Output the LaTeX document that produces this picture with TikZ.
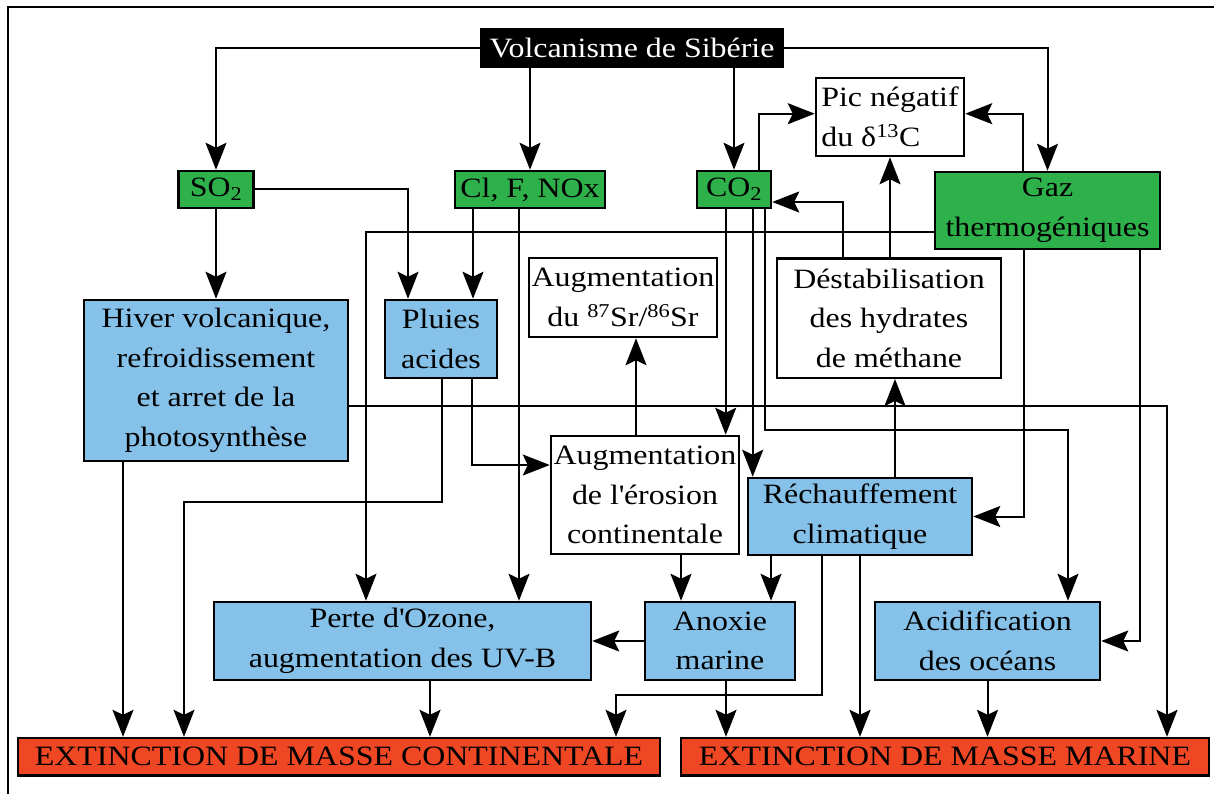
\documentclass[tikz,border=0pt]{standalone}
\usepackage{fontspec}
\setmainfont{Liberation Serif}[FakeStretch=1.14]
\usetikzlibrary{arrows.meta}
\definecolor{gfill}{RGB}{46,176,75}
\definecolor{bfill}{RGB}{133,193,233}
\definecolor{rfill}{RGB}{239,71,35}
\newcommand{\apos}{\textquotesingle}
\begin{document}
\begin{tikzpicture}[x=1pt,y=-1pt,
  base/.style={draw=black, line width=2.5pt, inner sep=0pt, align=center, font=\fontsize{28}{39.5}\selectfont, text=black},
  gbox/.style={base, fill=gfill},
  bbox/.style={base, fill=bfill},
  wbox/.style={base, fill=white},
  rbox/.style={base, fill=rfill},
  kbox/.style={base, fill=black, text=white},
  arr/.style={line width=2pt, -{Stealth[length=27pt,width=21pt,inset=5pt]}},
  ln/.style={line width=2pt}]
\useasboundingbox (0,0) rectangle (1214,794);
\draw[line width=1.5pt] (8,794) -- (8,7) -- (1214,7);

% nodes
\node[kbox, minimum width=302pt, minimum height=38pt] (volc) at (632,48) {Volcanisme de Sibérie};
\node[gbox, minimum width=75pt, minimum height=37pt] (so2) at (216,189.5) {SO\textsubscript{2}};
\node[gbox, minimum width=150pt, minimum height=37pt] (cl) at (530,189.5) {Cl, F, NOx};
\node[gbox, minimum width=74pt, minimum height=37pt] (co2) at (734,189.5) {CO\textsubscript{2}};
\node[gbox, minimum width=225pt, minimum height=77pt] (gaz) at (1047.5,210.5) {Gaz\\thermogéniques};
\node[wbox, align=left, minimum width=148pt, minimum height=78pt] (pic) at (890,117) {Pic négatif\\du δ\textsuperscript{13}C};
\node[bbox, minimum width=264pt, minimum height=161pt] (hiver) at (216,380.5) {Hiver volcanique,\\refroidissement\\et arret de la\\photosynthèse};
\node[bbox, minimum width=112pt, minimum height=78pt] (pluies) at (441,339) {Pluies\\acides};
\node[wbox, minimum width=188pt, minimum height=79pt] (sr) at (623,297.5) {Augmentation\\du \textsuperscript{87}Sr/\textsuperscript{86}Sr};
\node[wbox, minimum width=224pt, minimum height=119.5pt] (destab) at (889,318) {Déstabilisation\\des hydrates\\de méthane};
\node[wbox, minimum width=188pt, minimum height=118pt] (erosion) at (645,495) {Augmentation\\de l\apos érosion\\continentale};
\node[bbox, minimum width=224pt, minimum height=77pt] (rech) at (860,516.5) {Réchauffement\\climatique};
\node[bbox, minimum width=377pt, minimum height=78pt] (perte) at (402.5,641) {Perte d\apos Ozone,\\augmentation des UV-B};
\node[bbox, minimum width=150pt, minimum height=78pt] (anoxie) at (720,641) {Anoxie\\marine};
\node[bbox, minimum width=225pt, minimum height=78pt] (acid) at (987.5,641) {Acidification\\des océans};
\node[rbox, minimum width=642pt, minimum height=37.5pt] (cont) at (339,756.8) {EXTINCTION DE MASSE CONTINENTALE};
\node[rbox, minimum width=528pt, minimum height=37.5pt] (marine) at (945,756.8) {EXTINCTION DE MASSE MARINE};

% connectors
\draw[arr] (volc.west) -| (so2.north);
\draw[arr] (volc.south -| cl.north) -- (cl.north);
\draw[arr] (volc.south -| co2.north) -- (co2.north);
\draw[arr] (volc.east) -| (gaz.north);
\draw[arr] (so2.south) -- (hiver.north);
\draw[arr] (so2.east) -| ([xshift=-33pt]pluies.north);
\draw[arr] ([xshift=-57pt]cl.south) -- ([xshift=32pt]pluies.north);
\draw[arr] ([xshift=-11pt]cl.south) -- ([xshift=116.5pt]perte.north);
\draw[arr] ([yshift=-21.5pt]gaz.west) -| ([xshift=-36.5pt]perte.north);
\draw[arr] ([xshift=24.5pt]co2.north) |- ([yshift=3.3pt]pic.west);
\draw[arr] ([xshift=-24.5pt]gaz.north) |- ([yshift=3.3pt]pic.east);
\draw[arr] ([xshift=-46pt]destab.north) |- ([yshift=-12.5pt]co2.east);
\draw[arr] (destab.north -| pic.south) -- (pic.south);
\draw[arr] ([xshift=-8.3pt]co2.south) -- ([xshift=80.7pt]erosion.north);
\draw[arr] ([xshift=18.7pt]co2.south) -- ([xshift=-107.3pt]rech.north);
\draw[arr] ([xshift=31pt]co2.south) -- ++(0,220.7) -| ([xshift=80.5pt]acid.north);
\draw[arr] ([xshift=-23.5pt]gaz.south) |- (rech.east);
\draw[arr] ([xshift=92.5pt]gaz.south) |- (acid.east);
\draw[arr] ([yshift=-25.5pt]hiver.east) -| ([xshift=222pt]marine.north);
\draw[arr] ([xshift=-93pt]hiver.south) -- ([xshift=-216pt]cont.north);
\draw[arr] ([xshift=1pt]pluies.south) -- ++(0,123) -| ([xshift=-155pt]cont.north);
\draw[arr] ([xshift=31pt]pluies.south) |- ([yshift=30pt]erosion.west);
\draw[arr] ([xshift=-9pt]erosion.north) -- ([xshift=13pt]sr.south);
\draw[arr] ([xshift=35pt]rech.north) -- ([xshift=6pt]destab.south);
\draw[arr] ([xshift=36pt]erosion.south) -- ([xshift=-39pt]anoxie.north);
\draw[arr] ([xshift=-89pt]rech.south) -- ([xshift=51pt]anoxie.north);
\draw[arr] ([xshift=-38pt]rech.south) -- ++(0,139) -| ([xshift=277pt]cont.north);
\draw[arr] (rech.south) -- ([xshift=-85pt]marine.north);
\draw[arr] (anoxie.west) -- (perte.east);
\draw[arr] ([xshift=6pt]anoxie.south) -- ([xshift=-219pt]marine.north);
\draw[arr] ([xshift=27.5pt]perte.south) -- ([xshift=91pt]cont.north);
\draw[arr] (acid.south) -- ([xshift=42.5pt]marine.north);
\end{tikzpicture}
\end{document}
